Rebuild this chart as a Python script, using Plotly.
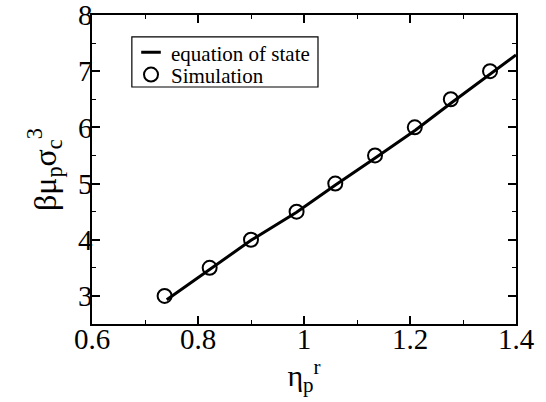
import plotly.graph_objects as go

# Equation of state curve
eos_x = [0.741, 0.82, 0.90, 0.986, 1.06, 1.135, 1.21, 1.277, 1.351, 1.40]
eos_y = [2.93, 3.46, 3.99, 4.49, 4.98, 5.46, 5.95, 6.43, 6.94, 7.29]

# Simulation points
sim_x = [0.737, 0.822, 0.900, 0.986, 1.059, 1.134, 1.209, 1.277, 1.351]
sim_y = [3.0, 3.5, 4.0, 4.5, 5.0, 5.5, 6.0, 6.5, 7.0]

x_ticks = [0.6, 0.8, 1.0, 1.2, 1.4]
x_ticklabels = ["0.6", "0.8", "1", "1.2", "1.4"]
y_ticks = [3, 4, 5, 6, 7, 8]

FONT = "Liberation Serif, Times New Roman, Times, serif"

fig = go.Figure()
fig.add_trace(go.Scatter(
    x=eos_x, y=eos_y, mode="lines", name="equation of state",
    line=dict(color="black", width=3), showlegend=False,
))
# legend entry for the equation of state (short dash symbol)
fig.add_trace(go.Scatter(
    x=[None], y=[None], mode="markers", name="equation of state",
    marker=dict(symbol="line-ew", size=14, color="black",
                line=dict(color="black", width=3)),
    legend="legend",
))
fig.add_trace(go.Scatter(
    x=sim_x, y=sim_y, mode="markers", name="Simulation",
    marker=dict(symbol="circle-open", size=14, color="black",
                line=dict(color="black", width=2)),
    legend="legend2",
))

axis_common = dict(
    showline=True, linecolor="black", linewidth=1.5, mirror="ticks",
    ticks="inside", ticklen=8, tickwidth=1.5, tickcolor="black",
    showgrid=False, zeroline=False, automargin=False,
    ticklabeloverflow="allow",
    tickfont=dict(family=FONT, size=29, color="black"),
)

fig.update_xaxes(
    range=[0.6, 1.4], tickvals=x_ticks, ticktext=x_ticklabels,
    ticklabelstandoff=-12,
    minor=dict(dtick=0.1, ticks="inside", ticklen=4, tickwidth=1.2, tickcolor="black"),
    title=dict(text="η<sub>p</sub><sup>r</sup>", font=dict(family=FONT, size=30, color="black"), standoff=0),
    **axis_common,
)
fig.update_yaxes(
    range=[2.5, 8], tickvals=y_ticks,
    ticklabelstandoff=-8,
    minor=dict(dtick=0.5, ticks="inside", ticklen=4, tickwidth=1.2, tickcolor="black"),
    title=dict(text="βμ<sub>p</sub>σ<sub>c</sub><sup>3</sup>", font=dict(family=FONT, size=32, color="black"), standoff=12),
    **axis_common,
)

leg_common = dict(
    xanchor="left", yanchor="middle",
    borderwidth=0, bgcolor="rgba(0,0,0,0)",
    font=dict(family=FONT, size=21, color="black"),
)

fig.update_layout(
    width=546, height=402,
    margin=dict(l=92, r=30, t=15, b=78),
    plot_bgcolor="white", paper_bgcolor="white",
    font=dict(family=FONT, color="black"),
    legend=dict(x=0.092, y=0.878, **leg_common),
    legend2=dict(x=0.092, y=0.806, **leg_common),
    shapes=[dict(type="rect", xref="paper", yref="paper",
                 x0=0.094, x1=0.533, y0=0.767, y1=0.929,
                 line=dict(color="black", width=1.2), layer="below")],
)

fig.write_html("out.html", config={"displayModeBar": False},
               post_script="document.body.style.margin='0';document.body.style.padding='0';")
